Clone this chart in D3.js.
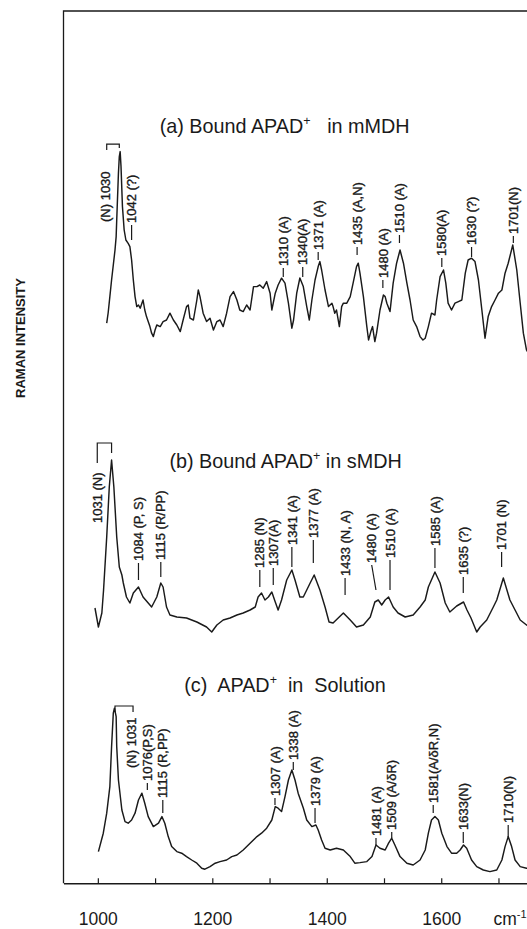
<!DOCTYPE html>
<html><head><meta charset="utf-8">
<script src="https://cdn.jsdelivr.net/npm/d3@7"></script>
<style>
body{margin:0;background:#fff;}
svg{display:block;}
text{font-family:"Liberation Sans",Arial,Helvetica,sans-serif;fill:#1a1a1a;}
</style>
</head><body>
<svg id="c" width="527" height="929"></svg>
<script>
// ---- DATA (wavenumber cm-1, relative Raman intensity) ----
const specA = [[1015.5,15.9],[1018,21],[1021,29.2],[1024,37.5],[1027,45],[1030,52.5],[1032,59.2],[1033,67.5],[1036,91],[1037.5,99.2],[1039,101.7],[1040.5,94.2],[1043,74.2],[1046,62.5],[1049,57.5],[1053,55.8],[1056,54.2],[1059,47.5],[1062,37.5],[1065,29.2],[1068,24.2],[1071,25],[1074,23.4],[1077,25.9],[1079,27.5],[1082,22.5],[1085,19.2],[1088,16.7],[1091,14.2],[1094,10.9],[1097,9.2],[1100,12.5],[1103,15],[1109,14.2],[1114,16.7],[1120,17.5],[1126,20.9],[1132,17.5],[1138,15],[1144,11.7],[1149,17.5],[1155,24.2],[1158,25],[1161,18.4],[1167,17.5],[1173,27.5],[1175.5,32.5],[1178.5,29.2],[1184,20.9],[1190,16.7],[1196,18.4],[1202,12.5],[1208,16.7],[1213.5,17.5],[1219,14.2],[1225,20.9],[1231,29.2],[1237,31.7],[1243,27.5],[1248,22.5],[1254,21.7],[1260,25],[1266,22.5],[1272,34.2],[1278,34.2],[1283,35],[1289,33.4],[1295,36.7],[1301,30.9],[1304,22.5],[1310,30.9],[1315,35],[1321,38.4],[1327,35.9],[1333,25.9],[1339,13.4],[1342,17.5],[1347.5,30.9],[1353,38.5],[1359,34.2],[1365,24.2],[1369.5,17.5],[1374,27.5],[1379.5,37.5],[1385,44.2],[1388,46.7],[1391,42.5],[1397,32.5],[1403,24.2],[1409,25.9],[1411,24.2],[1414,20.9],[1417,22.5],[1422,14.2],[1426,24.2],[1429,25.9],[1435,25.9],[1441,29.2],[1446,35.9],[1452,44.2],[1455,45.9],[1458,40.9],[1464,29.2],[1470,14.2],[1473,7.5],[1477,11.7],[1480,14.2],[1484,6.7],[1487,10.9],[1493,22.5],[1499,30],[1502,29.2],[1505,25.9],[1510.5,21.7],[1516,35.9],[1522,45.9],[1528,52.5],[1534,45.9],[1540,35.9],[1545.5,27.5],[1551,17.5],[1557,14.2],[1563,9.2],[1568,7.5],[1572,8.4],[1577.5,14.2],[1583,20.9],[1589,20],[1592,27.5],[1598,39.2],[1604,42.5],[1608,35.9],[1612,25.9],[1618,22.5],[1624,25.9],[1630,26.7],[1636,27.5],[1642,40.9],[1647,47.5],[1653,48.4],[1659,46.7],[1665,37.5],[1671,22.5],[1676.5,8.4],[1682,19.2],[1688,24.2],[1694,27.5],[1700,30.9],[1706,32.5],[1711.5,40.9],[1717,45.9],[1725,55],[1732,42.5],[1738,25.9],[1743.5,10.9],[1749,2.5],[1755,-0.5]];

const specB = [[995,16],[1001,6.5],[1007,13.5],[1010,25],[1015.5,51.5],[1020,76.5],[1024,90],[1028,76.5],[1033,51.5],[1037.5,36.5],[1042,32.5],[1044.5,28.5],[1050,21.5],[1056,18.5],[1062,23.5],[1071,26.5],[1079,21.5],[1088,18.5],[1094,16.5],[1103,21.5],[1110,28.5],[1114,26.5],[1120,16.5],[1126,12.5],[1138,11.5],[1155,11],[1173,9],[1190,6.5],[1199,4],[1208,7.5],[1219,10],[1231,11],[1243,12.5],[1254,13.5],[1266,15],[1275,16.5],[1280,21.5],[1286,23.5],[1292,20],[1298,21.5],[1304,24],[1310,19],[1315,15],[1321,20],[1330,30],[1339,35],[1344.5,30],[1353,21.5],[1359,21.5],[1371,28.5],[1378,32.5],[1388,25],[1397,16.5],[1404,9],[1411,8.5],[1420,11],[1429,13.5],[1441,10],[1452,6.5],[1464,7.5],[1476,11.5],[1484,19],[1490,20],[1496,17.5],[1502,20],[1508,21.5],[1516,16.5],[1524.5,13.5],[1537,11.5],[1551,12.5],[1563,16.5],[1572,20],[1577.5,26.5],[1589,34],[1598,28.5],[1607,18.5],[1615,14],[1627,17],[1639,19],[1645,15],[1652,11],[1662,4],[1668,6.5],[1679.5,10],[1691,16.5],[1697,20],[1708.5,31],[1720,20],[1729,15],[1738,10],[1749,7.5],[1759,6.5]];

const specC = [[1001,14.2],[1009.5,23.4],[1015.5,33.4],[1021,46.7],[1024,66.7],[1027,83.4],[1029,85.9],[1032,81.7],[1033,66.7],[1036,50],[1042,35],[1047.5,29.2],[1053,28.4],[1059,30],[1065,33.4],[1071,40],[1077,43.4],[1082,38.4],[1088,31.7],[1097,26.7],[1106,28.4],[1112,31.7],[1117,28.4],[1123,21.7],[1129,16.7],[1138,14.2],[1146.5,13.4],[1155,11.7],[1164,10],[1173,8.4],[1181.5,5.9],[1187,5.4],[1196,6.7],[1205,8.4],[1213.5,9.2],[1225,10],[1234,11.7],[1243,12.5],[1254,15],[1266,18.4],[1278,21.7],[1286,23.4],[1295,25.9],[1304,30],[1310,36.7],[1315,35.9],[1321,34.2],[1327,41.7],[1333,50],[1339,55],[1344.5,50],[1350,43.4],[1359,36],[1365,30],[1374,26.7],[1381,27.5],[1385,25],[1391,20],[1397,15.9],[1406,15],[1417,15.9],[1429,15],[1441,11.7],[1449,8.4],[1458,8.7],[1470,9.2],[1479,11.7],[1486,17.5],[1493,15.9],[1502,15],[1508,18.4],[1513.5,20.9],[1519,17.5],[1528,11.7],[1540,8.4],[1551,7.5],[1563,10],[1572,15],[1577.5,23.4],[1583,30],[1589,31.7],[1595,30],[1601,23.4],[1610,16.7],[1618,13.4],[1627,13.4],[1633,15],[1639,17.5],[1644.5,15.9],[1653,10],[1662,6.7],[1673.5,5],[1685,4.2],[1697,5],[1706,10],[1711.5,16.7],[1717,21.7],[1723,16.7],[1729,10],[1738,6.7],[1749,5.9],[1759,5.5]];

// band assignments: label text, band position (cm-1), leader from/to (intensity)
const labelsA = [
  {t:"(N) 1030", wn:1012.5, d0:66.5, d1:66.5},
  {t:"1042 (?)", wn:1059, d0:57.5, d1:65},
  {t:"1310 (A)", wn:1324, d0:39, d1:43.5},
  {t:"1340(A)", wn:1358, d0:39, d1:44},
  {t:"1371 (A)", wn:1385, d0:47.5, d1:51.5},
  {t:"1435 (A,N)", wn:1453, d0:50, d1:54},
  {t:"1480 (A)", wn:1498, d0:33.5, d1:37.5},
  {t:"1510 (A)", wn:1527, d0:56, d1:60},
  {t:"1580(A)", wn:1601, d0:44, d1:48.5},
  {t:"1630 (?)", wn:1653, d0:49, d1:54},
  {t:"1701(N)", wn:1726, d0:56, d1:59.5}
];
const labelsB = [
  {t:"1031 (N)", wn:999, d0:58.5, d1:58.5},
  {t:"1084 (P, S)", wn:1071, d0:30, d1:38.5},
  {t:"1115 (R/PP)", wn:1110, d0:31.5, d1:39},
  {t:"1285 (N)", wn:1283, d0:26.5, d1:35},
  {t:"1307(A)", wn:1306.5, d0:27.5, d1:36},
  {t:"1341 (A)", wn:1339, d0:36.5, d1:46.5},
  {t:"1377 (A)", wn:1376.5, d0:38.5, d1:50},
  {t:"1433 (N, A)", wn:1432, d0:22.5, d1:31},
  {t:"1480 (A)", wn:1478.5, wb:1486, d0:25, d1:37.5},
  {t:"1510 (A)", wn:1510.5, d0:25, d1:40},
  {t:"1585 (A)", wn:1589, d0:36, d1:46},
  {t:"1635 (?)", wn:1638.5, d0:23.5, d1:31.5},
  {t:"1701 (N)", wn:1705.5, d0:36.5, d1:44}
];
const labelsC = [
  {t:"(N) 1031", wn:1058, d0:56, d1:56},
  {t:"1076(P,S)", wn:1086.5, d0:45, d1:48.5},
  {t:"1115 (R,PP)", wn:1113.5, d0:33.5, d1:40},
  {t:"1307 (A)", wn:1309.5, d0:37.5, d1:41},
  {t:"1338 (A)", wn:1341.5, d0:55, d1:59},
  {t:"1379 (A)", wn:1379.5, d0:28.5, d1:36},
  {t:"1481 (A)", wn:1486, d0:17.5, d1:21},
  {t:"1509 (A/δR)", wn:1513.5, d0:21, d1:24},
  {t:"1581(A/δR,N)", wn:1586, d0:33.5, d1:37.5},
  {t:"1633(N)", wn:1638.5, d0:18.5, d1:24},
  {t:"1710(N)", wn:1717, d0:21.5, d1:27.5}
];
// brackets joining the strongest band to its label
const bracketA = [[1015.5,102.5],[1015.5,105.4],[1037.5,105.4],[1037.5,103.5]];
const bracketB = [[999,88.5],[999,98.5],[1024,98.5],[1024,93.5]];
const bracketC = [[1030,84],[1030,87],[1061.5,87],[1061.5,84]];

const titleA = ["(a) Bound APAD", "+", "   in mMDH"];
const titleB = ["(b) Bound APAD", "+", " in sMDH"];
const titleC = ["(c)  APAD", "+", "  in  Solution"];

const tickValues = [1000,1100,1200,1300,1400,1500,1600,1700,1800];
const tickLabels = [1000,1200,1400,1600];
const unitLabel = "cm";
const yTitle = "RAMAN INTENSITY";

// ---- LAYOUT ----
const W = 527, H = 929;
const ink = "#1a1a1a";
const svg = d3.select("#c");
const x = d3.scaleLinear().domain([940,1800]).range([63.5,555.7]);
const axisY = 883.3, topY = 11;

const panels = [
  {data:specA, labels:labelsA, bracket:bracketA, title:titleA, tpos:[1108,111],
   y:d3.scaleLinear().domain([0,100]).range([355,155])},
  {data:specB, labels:labelsB, bracket:bracketB, title:titleB, tpos:[1125,86],
   y:d3.scaleLinear().domain([0,100]).range([640,440])},
  {data:specC, labels:labelsC, bracket:bracketC, title:titleC, tpos:[1151,94],
   y:d3.scaleLinear().domain([0,100]).range([880,680])}
];

// frame
svg.append("path")
  .attr("d", `M${x(940)},${axisY}V${topY}H${W+20}`)
  .attr("fill","none").attr("stroke",ink).attr("stroke-width",1.3);

// bottom axis
const ax = svg.append("g").attr("transform",`translate(0,${axisY})`)
  .call(d3.axisBottom(x).tickValues(tickValues).tickSize(-5).tickSizeOuter(0).tickPadding(29)
    .tickFormat(d => tickLabels.includes(d) ? d : ""));
ax.select(".domain").attr("stroke",ink).attr("stroke-width",1.4);
ax.selectAll(".tick line").attr("stroke",ink).attr("stroke-width",1.2);
ax.selectAll(".tick text").attr("font-size",17.5).attr("fill",ink)
  .attr("font-family","'Liberation Sans',Arial,sans-serif");
const unit = svg.append("text").attr("x", x(1700)-5).attr("y", axisY+41.5)
  .attr("font-size",17.5).text(unitLabel);
unit.append("tspan").attr("dy",-7).attr("font-size",11).text("-1");

// y title
svg.append("text").attr("transform","translate(20,338) rotate(-90)")
  .attr("text-anchor","middle").attr("dy","0.35em")
  .attr("font-size",13).attr("font-weight","bold").text(yTitle);

const line = d3.line().x(d => x(d[0]));

panels.forEach(p => {
  const g = svg.append("g");
  g.append("path").datum(p.data)
    .attr("d", line.y(d => p.y(d[1])))
    .attr("fill","none").attr("stroke",ink).attr("stroke-width",1.45)
    .attr("stroke-linejoin","round");

  g.append("path").datum(p.bracket)
    .attr("d", d3.line().x(d => x(d[0])).y(d => p.y(d[1])))
    .attr("fill","none").attr("stroke",ink).attr("stroke-width",1.2);

  p.labels.forEach(l => {
    const cx = x(l.wn), yb = p.y(l.d0), yt = p.y(l.d1);
    const hasDash = l.d0 !== l.d1;
    if (hasDash) {
      g.append("line").attr("x1", l.wb ? x(l.wb) : cx).attr("y1", yb)
        .attr("x2", cx).attr("y2", yt)
        .attr("stroke",ink).attr("stroke-width",1.2);
    }
    g.append("text")
      .attr("transform", `translate(${cx},${yt - (hasDash ? 2 : 0)}) rotate(-90)`)
      .attr("dy","0.36em").attr("font-size",13)
      .attr("stroke",ink).attr("stroke-width",0.35)
      .text(l.t);
  });

  const t = g.append("text").attr("x", x(p.tpos[0])).attr("y", p.y(p.tpos[1]))
    .attr("font-size",19.8).style("white-space","pre");
  t.append("tspan").text(p.title[0]);
  t.append("tspan").attr("dy",-8).attr("font-size",12.5).text(p.title[1]);
  t.append("tspan").attr("dy",8).text(p.title[2]);
});
</script>
</body></html>
